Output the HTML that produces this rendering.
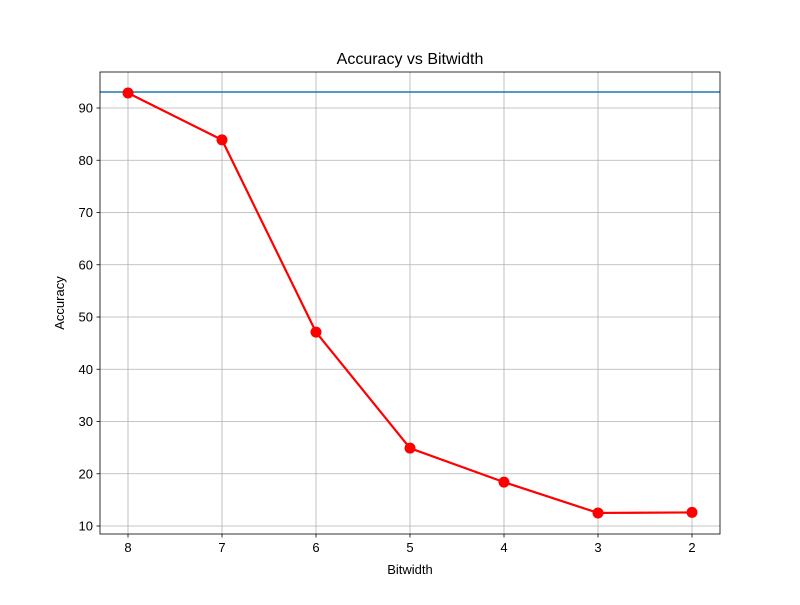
<!DOCTYPE html>
<html><head><meta charset="utf-8"><style>
body{margin:0;background:#fff;}
text{font-family:"Liberation Sans","DejaVu Sans",sans-serif;}
</style></head><body>
<svg id="chart" width="800" height="600" xmlns="http://www.w3.org/2000/svg"></svg>
<script>
const bitwidths=[8,7,6,5,4,3,2];
const accuracy=[92.87,83.9,47.1,24.9,18.4,12.5,12.6];
const baseline=93.06;
const yTicks=[10,20,30,40,50,60,70,80,90];
const L=100,R=720,T=72,B=534;
const xs=v=>128+(8-v)*94;
const ys=v=>108+(90-v)*(418/80);
const svg=document.getElementById('chart');
const NS='http://www.w3.org/2000/svg';
function mk(tag,attrs,parent){const e=document.createElementNS(NS,tag);for(const k in attrs)e.setAttribute(k,attrs[k]);(parent||svg).appendChild(e);return e;}
// grid
bitwidths.forEach(b=>{
  const g=mk('line',{x1:xs(b),x2:xs(b),y1:T,y2:B,stroke:'#b0b0b0','stroke-width':0.8});
  
  
  mk('line',{x1:xs(b),x2:xs(b),y1:B,y2:B+3.5,stroke:'#000','stroke-width':0.8});
  const t=mk('text',{x:xs(b),y:B+18,'text-anchor':'middle','font-size':13});
  t.textContent=b;
  
  
});
yTicks.forEach(v=>{
  const g=mk('line',{x1:L,x2:R,y1:ys(v),y2:ys(v),stroke:'#b0b0b0','stroke-width':0.8});
  
  
  mk('line',{x1:L-3.5,x2:L,y1:ys(v),y2:ys(v),stroke:'#000','stroke-width':0.8});
  const t=mk('text',{x:L-7,y:ys(v)+4.5,'text-anchor':'end','font-size':13});
  t.textContent=v;
  
  
});
// baseline
const bl=mk('line',{x1:L,x2:R,y1:ys(baseline),y2:ys(baseline),stroke:'#1f77b4','stroke-width':1.5});


// series
const pts=bitwidths.map((b,i)=>xs(b)+','+ys(accuracy[i])).join(' ');
const pl=mk('polyline',{points:pts,fill:'none',stroke:'#ff0000','stroke-width':2.2});


bitwidths.forEach((b,i)=>{
  const c=mk('circle',{cx:xs(b),cy:ys(accuracy[i]),r:5.5,fill:'#ff0000'});
  
  
});
// frame
const f=mk('rect',{x:L,y:T,width:R-L,height:B-T,fill:'none',stroke:'#000','stroke-width':0.8});


const title=mk('text',{x:410,y:64,'text-anchor':'middle','font-size':16});
title.textContent='Accuracy vs Bitwidth';


const xl=mk('text',{x:410,y:574,'text-anchor':'middle','font-size':13});
xl.textContent='Bitwidth';


const yl=mk('text',{x:64,y:303,'text-anchor':'middle','font-size':13,transform:'rotate(-90 64 303)'});
yl.textContent='Accuracy';


</script>
</body></html>
